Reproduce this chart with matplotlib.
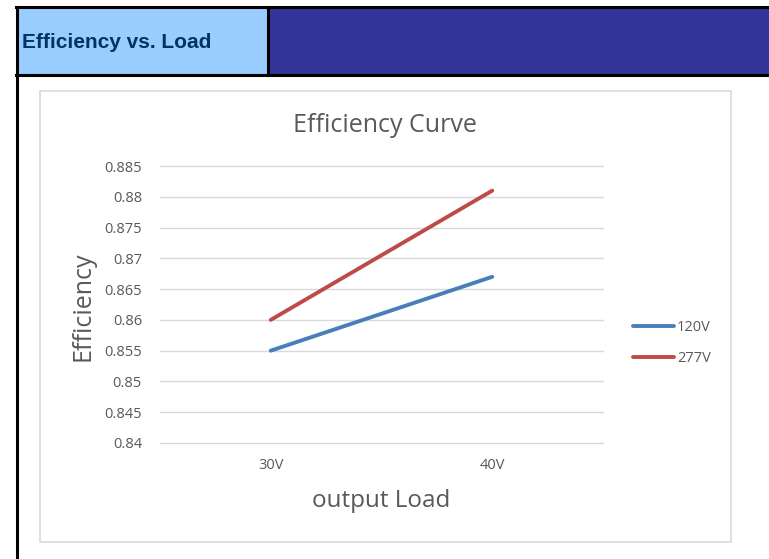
import matplotlib
matplotlib.use("Agg")
import matplotlib.pyplot as plt
from matplotlib.patches import Rectangle
from matplotlib.lines import Line2D

categories = ["30V", "40V"]
series_names = ["120V", "277V"]
values_120v = [0.855, 0.867]
values_277v = [0.860, 0.881]
yticks = [0.84, 0.845, 0.85, 0.855, 0.86, 0.865, 0.87, 0.875, 0.88, 0.885]
ytick_labels = ["0.84", "0.845", "0.85", "0.855", "0.86", "0.865", "0.87", "0.875", "0.88", "0.885"]

W, H = 769, 559
fig = plt.figure(figsize=(W / 100, H / 100), dpi=100)
plt.rcParams['font.family'] = ['Open Sans', 'DejaVu Sans']

def fx(x):
    return x / W

def fy(y):
    return 1 - y / H

def rect(x0, y0, x1, y1, **kw):
    fig.patches.append(Rectangle((fx(x0), fy(y1)), fx(x1) - fx(x0), fy(y0) - fy(y1),
                                 transform=fig.transFigure, zorder=-5, **kw))

# header cells
rect(17, 8, 268, 75, facecolor="#99ccff", edgecolor="none")
rect(268, 8, 769, 75, facecolor="#333399", edgecolor="none")
# black borders
for (x0, y0, x1, y1) in [(16, 7, 769, 7), (16, 75, 769, 75), (268, 7, 268, 75), (17, 7, 17, 559)]:
    fig.add_artist(Line2D([fx(x0), fx(x1)], [fy(y0), fy(y1)], color="black", lw=2.2,
                          transform=fig.transFigure, zorder=-4))
fig.text(fx(22), fy(42), "Efficiency vs. Load", fontsize=15, fontweight="bold",
         color="#003366", family=["Liberation Sans", "DejaVu Sans"], va="center", ha="left")

# chart frame
rect(39.5, 90.5, 730.5, 541.5, facecolor="white", edgecolor="#d9d9d9", lw=1.2)

# axes
ax = fig.add_axes([fx(160), fy(443), fx(603) - fx(160), fy(166) - fy(443)])
ax.set_zorder(2)
ax.set_facecolor("none")
x = list(range(len(categories)))
ax.plot(x, values_120v, color="#4a7ebb", lw=2.8, label=series_names[0], solid_capstyle="round")
ax.plot(x, values_277v, color="#be4b48", lw=2.8, label=series_names[1], solid_capstyle="round")
ax.set_xlim(-0.5, 1.5)
ax.set_ylim(0.84, 0.885)
ax.set_yticks(yticks)
ax.set_yticklabels(ytick_labels)
ax.set_xticks(x)
ax.set_xticklabels(categories)
ax.grid(axis="y", color="#d9d9d9", lw=1)
for gl in ax.get_ygridlines():
    gl.set_clip_on(False)
ax.set_axisbelow(True)
for s in ax.spines.values():
    s.set_visible(False)
ax.tick_params(length=0, labelsize=10.5, colors="#595959")
ax.tick_params(axis="y", pad=13)
ax.tick_params(axis="x", pad=11)

fig.text(fx(385), fy(125), "Efficiency Curve", fontsize=18, color="#595959", ha="center", va="center")
fig.text(fx(83), fy(306), "Efficiency", fontsize=18, color="#595959", ha="center", va="center", rotation=90)
fig.text(fx(381), fy(501), "output Load", fontsize=17.5, color="#595959", ha="center", va="center")

leg = ax.legend(loc="center left", bbox_to_anchor=(fx(620), fy(343)), bbox_transform=fig.transFigure,
                frameon=False, fontsize=10.5, handlelength=2.8, handletextpad=0.2, labelspacing=1.1)
for t in leg.get_texts():
    t.set_color("#595959")

fig.savefig("out.png", dpi=100)
